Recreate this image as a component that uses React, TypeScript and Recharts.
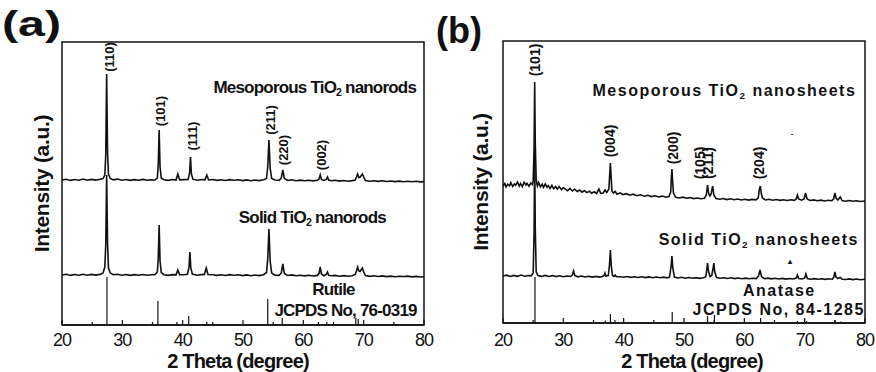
import { LineChart, Line, XAxis, YAxis, ReferenceArea, ReferenceLine, ReferenceDot } from 'recharts'

type Pt = [number, number]
type Note = { x: number; y: number; text: string }

const INK = '#111'
const FONT = '"Liberation Sans", Arial, sans-serif'

const degTicks = [20, 25, 30, 35, 40, 45, 50, 55, 60, 65, 70, 75, 80]

// (a) rutile, intensity in a.u.
const mesoRutile: Pt[] = [
  [20, 145], [20.7, 145.8], [21.4, 144.6], [22.1, 145.5], [22.8, 144.7], [23.5, 145.9], [24.2, 144.8], [24.9, 145.6],
  [25.6, 144.9], [26.3, 145.7], [26.8, 146.5], [27.1, 150], [27.25, 170], [27.4, 251], [27.55, 172], [27.7, 151],
  [28.0, 146.5], [28.5, 145.2], [29.2, 145.9], [29.9, 144.7], [30.6, 145.5], [31.3, 144.6], [32.0, 145.4], [32.7, 144.8],
  [33.4, 145.6], [34.1, 144.7], [34.8, 145.3], [35.4, 145], [35.8, 147], [35.95, 160], [36.1, 195], [36.25, 158],
  [36.45, 147], [36.9, 145.3], [37.6, 144.6], [38.3, 145.5], [38.9, 145], [39.2, 151], [39.5, 145.2], [40.2, 145.4],
  [40.9, 145.6], [41.15, 152], [41.3, 168], [41.45, 151], [41.7, 145.8], [42.4, 144.8], [43.1, 145.5], [43.7, 145.1],
  [44.0, 150], [44.3, 145], [45, 145.5], [45.7, 144.6], [46.4, 145.3], [47.1, 144.5], [47.8, 145.4], [48.5, 144.7],
  [49.2, 145.2], [49.9, 144.4], [50.6, 145.1], [51.3, 144.3], [52, 145], [52.7, 144.4], [53.4, 145.2], [53.9, 146.5],
  [54.1, 158], [54.3, 185], [54.5, 157], [54.75, 146.5], [55.3, 145], [56.0, 144.6], [56.35, 147], [56.6, 155],
  [56.85, 146.5], [57.4, 144.5], [58.1, 145.2], [58.8, 144.3], [59.5, 144.9], [60.2, 144.2], [60.9, 144.8], [61.6, 144.1],
  [62.3, 144.7], [62.6, 146], [62.8, 150], [63.0, 145.5], [63.4, 144.5], [63.8, 145.5], [64.0, 148], [64.2, 145],
  [64.6, 144.2], [65.3, 144.7], [66, 143.9], [66.7, 144.5], [67.4, 143.8], [68.1, 144.4], [68.6, 145], [68.8, 148],
  [69.0, 151], [69.2, 147.5], [69.4, 147.8], [69.6, 149.5], [69.8, 151], [70.0, 148], [70.3, 144.5], [71, 143.7],
  [71.7, 144.3], [72.4, 143.6], [73.1, 144.2], [73.8, 143.5], [74.5, 144], [75.2, 143.4], [75.9, 143.9], [76.6, 143.3],
  [77.3, 143.8], [78, 143.2], [78.7, 143.7], [79.4, 143.1], [80, 143.4],
]

const solidRutile: Pt[] = [
  [20, 50], [20.7, 50.7], [21.4, 49.6], [22.1, 50.5], [22.8, 49.7], [23.5, 50.8], [24.2, 49.8], [24.9, 50.6],
  [25.6, 49.9], [26.3, 50.6], [26.8, 52], [27.1, 58], [27.25, 80], [27.4, 150], [27.55, 82], [27.7, 57],
  [28.0, 52], [28.5, 50.3], [29.2, 50.8], [29.9, 49.7], [30.6, 50.5], [31.3, 49.6], [32, 50.4], [32.7, 49.8],
  [33.4, 50.5], [34.1, 49.7], [34.8, 50.3], [35.4, 50.2], [35.8, 53], [35.95, 66], [36.1, 100], [36.25, 64],
  [36.45, 52.5], [36.9, 50.3], [37.6, 49.6], [38.3, 50.4], [38.9, 50.2], [39.2, 55], [39.5, 50.3], [40.2, 50.2],
  [40.8, 50.8], [41.05, 58], [41.2, 73], [41.35, 57], [41.6, 51], [42.4, 49.8], [43.1, 50.4], [43.6, 50.5],
  [43.9, 57], [44.2, 50.5], [45, 50.3], [45.7, 49.6], [46.4, 50.3], [47.1, 49.5], [47.8, 50.4], [48.5, 49.7],
  [49.2, 50.2], [49.9, 49.4], [50.6, 50.1], [51.3, 49.3], [52, 50], [52.7, 49.4], [53.4, 50.3], [53.9, 52.5],
  [54.1, 66], [54.3, 96], [54.5, 64], [54.75, 52], [55.3, 49.8], [56.0, 49.6], [56.35, 52], [56.6, 61],
  [56.85, 51.5], [57.4, 49.5], [58.1, 50.1], [58.8, 49.2], [59.5, 49.8], [60.2, 49.1], [60.9, 49.7], [61.6, 49],
  [62.3, 49.6], [62.6, 51.5], [62.8, 58], [63.0, 51], [63.4, 49.3], [63.8, 50.5], [64.0, 53], [64.2, 49.8],
  [64.6, 49.2], [65.3, 49.6], [66, 48.8], [66.7, 49.4], [67.4, 48.7], [68.1, 49.3], [68.6, 50.5], [68.8, 54],
  [69.0, 58], [69.2, 54], [69.4, 53.5], [69.6, 55.5], [69.8, 57], [70.0, 53], [70.3, 49.5], [71, 48.6],
  [71.7, 49.2], [72.4, 48.5], [73.1, 49.1], [73.8, 48.4], [74.5, 48.9], [75.2, 48.3], [75.9, 48.8], [76.6, 48.5],
  [77.3, 48.9], [78, 48.1], [78.7, 48.6], [79.4, 48], [80, 48.3],
]

// JCPDS 76-0319 sticks: [2theta, height]
const rutileRef: Pt[] = [
  [27.45, 48], [35.9, 24], [39.05, 3], [41.0, 9], [44.0, 3], [54.1, 26], [56.5, 7], [62.5, 3], [63.9, 3], [68.7, 7], [69.1, 6],
]

// (b) anatase
const mesoAnatase: Pt[] = [
  [20, 137], [20.3, 139.5], [20.5, 136], [20.8, 138.8], [21.1, 137.2], [21.3, 140.5], [21.6, 136.5], [21.9, 139],
  [22.1, 137.8], [22.4, 141], [22.7, 137], [22.9, 139.5], [23.2, 136.4], [23.5, 140.8], [23.8, 138], [24.0, 139.6],
  [24.3, 136.8], [24.6, 140], [24.85, 138.5], [25.0, 142], [25.15, 175], [25.25, 241], [25.35, 180], [25.5, 143],
  [25.7, 137], [25.9, 140.5], [26.2, 136.2], [26.5, 138.8], [26.7, 135.6], [27.0, 139], [27.3, 135.8], [27.5, 137.4],
  [27.8, 134.6], [28.1, 137.6], [28.4, 134.2], [28.7, 136.5], [29.0, 133.8], [29.3, 136.4], [29.7, 133.2], [30.0, 135.4],
  [30.4, 133.6], [30.7, 132.2], [31.1, 134.6], [31.5, 132], [31.9, 133.8], [32.3, 131.5], [32.7, 133], [33.1, 130.8],
  [33.5, 132.4], [33.9, 130.4], [34.3, 131.8], [34.7, 129.8], [35.1, 131.2], [35.5, 129.5], [35.9, 134], [36.2, 129.6],
  [36.6, 130], [36.9, 133], [37.2, 130.5], [37.55, 134], [37.7, 150], [37.8, 160], [37.9, 149], [38.05, 132],
  [38.3, 130], [38.6, 131.5], [38.9, 128.8], [39.4, 130], [39.9, 128.4], [40.5, 129.3], [41, 127.8], [41.6, 128.8],
  [42.2, 127.3], [42.8, 128.2], [43.4, 126.8], [44, 127.7], [44.6, 126.4], [45.2, 127.2], [45.8, 126], [46.4, 126.9],
  [47, 125.8], [47.5, 126.4], [47.8, 131], [47.9, 145], [48.0, 154], [48.1, 143], [48.25, 130], [48.6, 125.6],
  [49.2, 125], [49.8, 125.8], [50.4, 124.7], [51, 125.4], [51.6, 124.4], [52.2, 125], [52.8, 124.2], [53.4, 124.8],
  [53.7, 128], [53.9, 138], [54.1, 129], [54.3, 127], [54.5, 129], [54.75, 137], [54.95, 128], [55.3, 124.5],
  [55.9, 123.8], [56.5, 124.5], [57.1, 123.4], [57.7, 124.2], [58.3, 123.2], [58.9, 124], [59.5, 123], [60.1, 123.8],
  [60.7, 122.9], [61.3, 123.6], [61.9, 123.2], [62.3, 125], [62.5, 134], [62.65, 137], [62.8, 130], [63.0, 125],
  [63.5, 123], [64.1, 123.7], [64.7, 122.8], [65.3, 123.5], [65.9, 122.6], [66.5, 123.3], [67.1, 122.5], [67.7, 123.2],
  [68.3, 122.6], [68.6, 124], [68.8, 128], [69.0, 124], [69.5, 122.8], [69.9, 124], [70.15, 130], [70.4, 124],
  [70.9, 122.5], [71.5, 123.1], [72.1, 122.2], [72.7, 122.9], [73.3, 122], [73.9, 122.7], [74.5, 122.3], [74.8, 124],
  [75.0, 130], [75.2, 125], [75.5, 123], [75.9, 126], [76.2, 122.5], [76.8, 121.8], [77.4, 122.5], [78, 121.7],
  [78.6, 122.3], [79.2, 121.5], [80, 122],
]

const solidAnatase: Pt[] = [
  [20, 47], [20.6, 47.8], [21.2, 46.5], [21.8, 47.6], [22.4, 46.7], [23, 47.9], [23.6, 46.8], [24.2, 47.5],
  [24.7, 47.2], [25.0, 50], [25.15, 90], [25.25, 170], [25.35, 95], [25.5, 51], [25.8, 47.5], [26.4, 46.6],
  [27, 47.6], [27.6, 46.5], [28.2, 47.4], [28.8, 46.4], [29.4, 47.2], [30, 46.3], [30.6, 47], [31.2, 46.5],
  [31.5, 48], [31.7, 52], [31.9, 47.5], [32.4, 46.2], [33, 47], [33.6, 46], [34.2, 46.8], [34.8, 45.9],
  [35.4, 46.6], [36, 45.9], [36.5, 46.5], [36.75, 47.5], [36.9, 50], [37.05, 47], [37.45, 47.5], [37.65, 58],
  [37.8, 73], [37.95, 57], [38.15, 47.5], [38.4, 46.5], [38.6, 48], [38.8, 46.2], [39.4, 46.3], [40, 45.7],
  [40.6, 46.5], [41.2, 45.6], [41.8, 46.3], [42.4, 45.5], [43, 46.2], [43.6, 45.4], [44.2, 46.1], [44.8, 45.3],
  [45.4, 46], [46, 45.2], [46.6, 45.9], [47.2, 45.1], [47.6, 46], [47.85, 56], [48.0, 67], [48.15, 55],
  [48.4, 46], [49, 45], [49.6, 45.7], [50.2, 44.8], [50.8, 45.5], [51.4, 44.7], [52, 45.4], [52.6, 44.6],
  [53.2, 45.2], [53.6, 46], [53.8, 54], [53.9, 60], [54.05, 52], [54.3, 46.5], [54.6, 47.5], [54.8, 54],
  [54.95, 60], [55.1, 51], [55.4, 45.4], [56, 44.7], [56.6, 45.3], [57.2, 44.5], [57.8, 45.2], [58.4, 44.4],
  [59, 45], [59.6, 44.3], [60.2, 44.9], [60.8, 44.2], [61.4, 44.8], [62, 44.4], [62.35, 47], [62.6, 53],
  [62.85, 46.5], [63.3, 44.3], [63.9, 44.9], [64.5, 44.1], [65.1, 44.7], [65.7, 44], [66.3, 44.6], [66.9, 43.9],
  [67.5, 44.5], [68.1, 44], [68.6, 45], [68.8, 48], [69.0, 44.5], [69.6, 44], [70.0, 45], [70.2, 49],
  [70.45, 44.5], [71, 43.8], [71.6, 44.4], [72.2, 43.7], [72.8, 44.3], [73.4, 43.6], [74, 44.2], [74.6, 43.8],
  [74.85, 46], [75.0, 51], [75.2, 46], [75.5, 44.5], [75.9, 45.5], [76.2, 43.8], [76.8, 43.5], [77.4, 44.1],
  [78, 43.4], [78.6, 44], [79.2, 43.3], [80, 43.8],
]

// JCPDS 84-1285 sticks
const anataseRef: Pt[] = [
  [25.3, 46], [36.95, 2.5], [37.8, 9], [38.55, 3], [48.05, 11], [53.9, 7], [55.05, 8], [62.7, 5], [68.8, 2], [70.3, 2], [75.05, 3], [76.0, 1.5],
]

// text annotations ('|' wraps a subscript)
const rutileNotes: Note[] = [
  { x: 61.9, y: 238, text: 'Mesoporous TiO|2| nanorods' },
  { x: 61.5, y: 108, text: 'Solid TiO|2| nanorods' },
  { x: 65.0, y: 36, text: 'Rutile' },
  { x: 67.0, y: 15, text: 'JCPDS No, 76-0319' },
]
const rutileHkl: Note[] = [
  { x: 27.75, y: 268, text: '(110)' },
  { x: 36.2, y: 214, text: '(101)' },
  { x: 41.5, y: 189, text: '(111)' },
  { x: 54.4, y: 205, text: '(211)' },
  { x: 56.7, y: 175, text: '(220)' },
  { x: 63.0, y: 170, text: '(002)' },
]
const anataseNotes: Note[] = [
  { x: 56.7, y: 233, text: 'Mesoporous TiO|2| nanosheets' },
  { x: 62.4, y: 84, text: 'Solid TiO|2| nanosheets' },
  { x: 65.8, y: 33, text: 'Anatase' },
  { x: 65.7, y: 14, text: 'JCPDS No, 84-1285' },
]
const anataseHkl: Note[] = [
  { x: 25.35, y: 263, text: '(101)' },
  { x: 37.8, y: 182, text: '(004)' },
  { x: 48.2, y: 175, text: '(200)' },
  { x: 52.7, y: 160, text: '(105)' },
  { x: 54.0, y: 160, text: '(211)' },
  { x: 62.5, y: 160, text: '(204)' },
]

function rich(text: string, fs: number) {
  return text.split('|').map((part, i) =>
    i % 2 === 1 ? (
      <tspan key={i} fontSize={fs * 0.62} dy={fs * 0.32}>{part}</tspan>
    ) : (
      <tspan key={i} dy={i > 0 ? -fs * 0.32 : 0}>{part}</tspan>
    )
  )
}

function DegTick({ x, y, payload, dy }: any) {
  const major = payload.value % 10 === 0
  return (
    <g>
      <line x1={x} x2={x} y1={y} y2={y - (major ? 5 : 3)} stroke={INK} strokeWidth={1.2} />
      {major && (
        <text x={x} y={y + dy} textAnchor="middle" fontSize={18} fill={INK} style={{ letterSpacing: '-1px' }}>
          {payload.value}
        </text>
      )}
    </g>
  )
}

interface PanelProps {
  left: number
  top: number
  right: number
  bottom: number
  yAxisWidth: number
  yMax: number
  tickDy: number
  yTitleOffset: number
  titleDx: number
  curves: Pt[][]
  sticks: Pt[]
  notes: Note[]
  hkl: Note[]
  noteSize: number
  noteSpacing: number
  hklSize: number
  extras?: Note[]
}

function Panel(p: PanelProps) {
  const noteLabel = (n: Note, rotate: boolean, fs: number, spacing: number) => (lp: any) => {
    const vb = lp.viewBox
    const cx = vb.x + vb.width / 2
    const cy = vb.y + vb.height / 2
    return (
      <text
        x={cx}
        y={cy}
        textAnchor="middle"
        dominantBaseline="central"
        fontSize={fs}
        fontWeight="bold"
        fill={INK}
        transform={rotate ? `rotate(-90 ${cx} ${cy})` : undefined}
        style={{ letterSpacing: `${spacing}px` }}
      >
        {rich(n.text, fs)}
      </text>
    )
  }

  const xTitle = (lp: any) => {
    const vb = lp.viewBox
    return (
      <text
        x={vb.x + vb.width / 2 + p.titleDx}
        y={vb.y + vb.height - 4}
        textAnchor="middle"
        fontSize={20}
        fontWeight="bold"
        fill={INK}
        style={{ letterSpacing: '-0.8px' }}
      >
        2 Theta (degree)
      </text>
    )
  }

  return (
    <div style={{ position: 'absolute', left: p.left, top: 0 }}>
      <LineChart width={440} height={372} margin={{ top: p.top, right: p.right, bottom: 0, left: 0 }}>
        <XAxis
          type="number"
          dataKey="x"
          domain={[20, 80]}
          ticks={degTicks}
          interval={0}
          tickSize={0}
          tickMargin={0}
          tickLine={false}
          axisLine={{ stroke: INK, strokeWidth: 1.5 }}
          height={p.bottom}
          tick={(t: any) => <DegTick {...t} dy={p.tickDy} />}
          label={xTitle}
        />
        <YAxis
          type="number"
          domain={[0, p.yMax]}
          width={p.yAxisWidth}
          tick={false}
          tickLine={false}
          axisLine={false}
          label={{
            value: 'Intensity (a.u.)',
            angle: -90,
            position: 'insideLeft',
            offset: p.yTitleOffset,
            fill: INK,
            fontSize: 21,
            fontWeight: 'bold',
            style: { textAnchor: 'middle', letterSpacing: '-0.3px' },
          }}
        />
        <ReferenceArea x1={20} x2={80} y1={0} y2={p.yMax} fill="none" stroke={INK} strokeWidth={1.5} />
        {p.sticks.map(([x, h]) => (
          <ReferenceLine
            key={`s${x}`}
            segment={[{ x, y: 0 }, { x, y: h }]}
            stroke={INK}
            strokeWidth={1.2}
          />
        ))}
        {p.curves.map((c, i) => (
          <Line
            key={`c${i}`}
            data={c.map(([x, y]) => ({ x, y }))}
            dataKey="y"
            type="linear"
            stroke={INK}
            strokeWidth={1.6}
            dot={false}
            activeDot={false}
            isAnimationActive={false}
          />
        ))}
        {p.notes.map((n) => (
          <ReferenceDot key={`n${n.text}`} x={n.x} y={n.y} r={0} fill="none" stroke="none"
            label={noteLabel(n, false, p.noteSize, p.noteSpacing)} />
        ))}
        {p.hkl.map((n) => (
          <ReferenceDot key={`h${n.text}${n.x}`} x={n.x} y={n.y} r={0} fill="none" stroke="none"
            label={noteLabel(n, true, p.hklSize, 0)} />
        ))}
        {(p.extras ?? []).map((n, i) => (
          <ReferenceDot key={`e${i}`} x={n.x} y={n.y} r={0} fill="none" stroke="none"
            label={noteLabel(n, false, 8, 0)} />
        ))}
      </LineChart>
    </div>
  )
}

export default function App() {
  return (
    <div style={{ position: 'absolute', left: 0, top: 0, width: 876, height: 372, background: '#fff', fontFamily: FONT }}>
      <Panel
        left={0}
        top={42}
        right={16}
        bottom={47}
        yAxisWidth={62}
        yMax={283}
        tickDy={21}
        yTitleOffset={42}
        titleDx={-5}
        curves={[mesoRutile, solidRutile]}
        sticks={rutileRef}
        notes={rutileNotes}
        hkl={rutileHkl}
        noteSize={17}
        noteSpacing={-0.8}
        hklSize={13}
      />
      <Panel
        left={436}
        top={41}
        right={11}
        bottom={49}
        yAxisWidth={67}
        yMax={282}
        tickDy={23}
        yTitleOffset={45}
        titleDx={8}
        curves={[mesoAnatase, solidAnatase]}
        sticks={anataseRef}
        notes={anataseNotes}
        hkl={anataseHkl}
        noteSize={16}
        noteSpacing={1.5}
        hklSize={14}
        extras={[{ x: 67.9, y: 190, text: '-' }, { x: 67.6, y: 62, text: '▴' }]}
      />
      <div style={{ position: 'absolute', left: 2, top: 6, fontSize: 35, lineHeight: '35px', fontWeight: 'bold', color: INK, transform: 'scaleX(1.38)', transformOrigin: 'left top' }}>
        (a)
      </div>
      <div style={{ position: 'absolute', left: 436, top: 13, fontSize: 36, lineHeight: '36px', fontWeight: 'bold', color: INK }}>
        (b)
      </div>
    </div>
  )
}
